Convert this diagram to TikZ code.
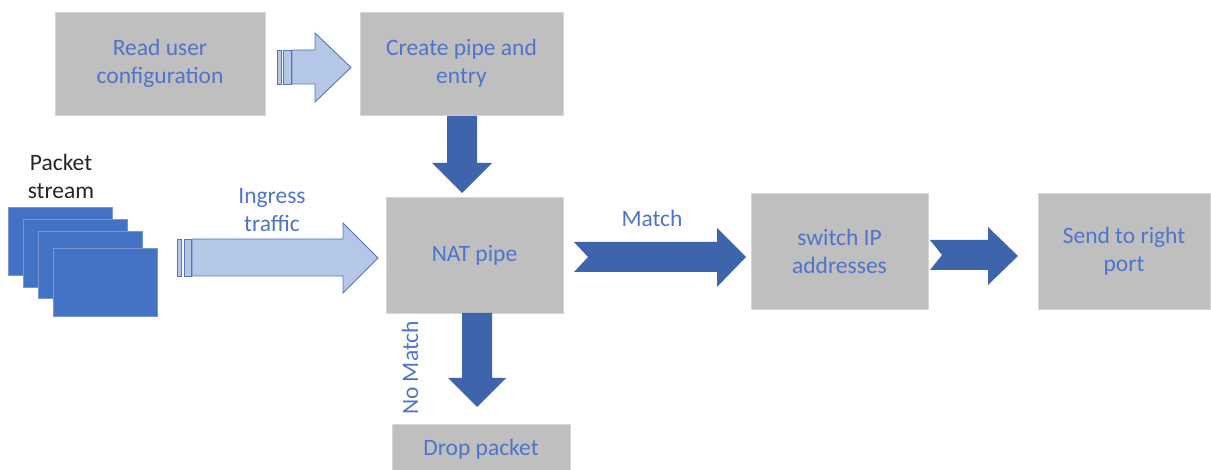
\documentclass[tikz,border=0pt]{standalone}
\usepackage{fontspec}
\setmainfont{Carlito}
\definecolor{boxgray}{RGB}{191,191,191}
\definecolor{boxedge}{RGB}{214,214,214}
\definecolor{txtblue}{RGB}{80,116,200}
\definecolor{darkarr}{RGB}{62,100,172}
\definecolor{lightarr}{RGB}{180,199,231}
\definecolor{lightedge}{RGB}{84,116,190}
\definecolor{pktblue}{RGB}{68,114,196}
\definecolor{pktedge}{RGB}{120,150,210}
\tikzset{
  stepbox/.style={fill=boxgray, draw=boxedge, line width=0.8pt, font=\fontsize{23.5}{28}\selectfont, text=txtblue, align=center, inner sep=0pt},
  darkarrow/.style={fill=darkarr},
  lightarrow/.style={fill=lightarr, draw=lightedge, line width=0.9pt, line join=miter},
  lbl/.style={font=\fontsize{23.5}{28}\selectfont, text=txtblue, align=center, inner sep=0pt},
  pkt/.style={fill=pktblue, draw=pktedge, line width=0.8pt}
}
\begin{document}
\begin{tikzpicture}[x=1pt,y=-1pt]
\useasboundingbox (0,0) rectangle (1211,470);
% boxes
\node[stepbox, minimum width=210pt, minimum height=103pt] (read) at (160,63.5) {Read user\\configuration};
\node[stepbox, minimum width=203pt, minimum height=103pt] (create) at (461.5,63.5) {Create pipe and\\entry};
\node[stepbox, minimum width=177pt, minimum height=116pt] (nat) at (474.5,255) {NAT pipe};
\node[stepbox, minimum width=177pt, minimum height=116pt] (switch) at (839.5,251.5) {switch IP\\addresses};
\node[stepbox, minimum width=172pt, minimum height=116pt] (send) at (1124,251) {Send to right\\port};
\node[stepbox, minimum width=178pt, minimum height=50pt] (drop) at (481,449) {Drop packet};
% packet stream
\draw[pkt] (8,207) rectangle (112,275);
\draw[pkt] (23,219) rectangle (127,287);
\draw[pkt] (38,231) rectangle (142,298);
\draw[pkt] (53,248) rectangle (157,316);
% light striped arrow read -> create
\draw[lightarrow] (277,50) rectangle (281,84);
\draw[lightarrow] (283,50) rectangle (291,84);
\draw[lightarrow] (292,50) -- (315,50) -- (315,33) -- (351,67.5) -- (315,102) -- (315,84) -- (292,84) -- cycle;
% ingress arrow
\draw[lightarrow] (177,239) rectangle (181,276);
\draw[lightarrow] (184,239) rectangle (191,276);
\draw[lightarrow] (192,239) -- (343,239) -- (343,223) -- (378,258) -- (343,293) -- (343,276) -- (192,276) -- cycle;
% create -> nat
\fill[darkarrow] (447,116) -- (477,116) -- (477,163) -- (492,163) -- (462,193) -- (432,163) -- (447,163) -- cycle;
% nat -> drop
\fill[darkarrow] (462,313) -- (492,313) -- (492,378) -- (506,378) -- (477,407) -- (448,378) -- (462,378) -- cycle;
% match chevron
\fill[darkarrow] (574,242) -- (717,242) -- (717,228) -- (746,257) -- (717,287) -- (717,272) -- (574,272) -- (588,257) -- cycle;
% switch -> send chevron
\fill[darkarrow] (930,240) -- (988,240) -- (988,227) -- (1018,256) -- (988,285) -- (988,270) -- (930,270) -- (942,255) -- cycle;
% labels
\node[lbl, text=black!85] (pktlbl) at (61,176) {Packet\\stream};
\node[lbl] (ingress) at (272,210) {Ingress\\traffic};
\node[lbl] (match) at (652,218) {Match};
\node[lbl, rotate=90] (nomatch) at (410,368) {No Match};
\end{tikzpicture}
\end{document}
